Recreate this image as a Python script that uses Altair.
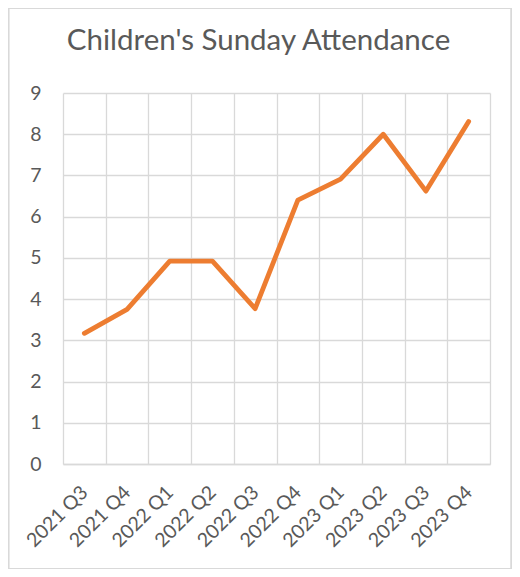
import altair as alt
import pandas as pd

quarters = ["2021 Q3", "2021 Q4", "2022 Q1", "2022 Q2", "2022 Q3",
            "2022 Q4", "2023 Q1", "2023 Q2", "2023 Q3", "2023 Q4"]
attendance = [3.17, 3.75, 4.92, 4.92, 3.77, 6.40, 6.91, 8.0, 6.62, 8.31]
y_ticks = [0, 1, 2, 3, 4, 5, 6, 7, 8, 9]
title_text = "Children's Sunday Attendance"

df = pd.DataFrame({"quarter": quarters, "attendance": attendance})

FONT = "Lato"
GRID = "#d9d9d9"
TXT = "#595959"

x_enc = alt.X(
    "quarter:N", sort=quarters, bandPosition=0.5,
    scale=alt.Scale(type="band", paddingInner=0, paddingOuter=0),
    axis=alt.Axis(title=None, labelAngle=-45, labelAlign="right", labelBaseline="middle",
                  tickBand="extent", grid=True, gridColor=GRID, gridWidth=1.3,
                  ticks=False, domain=True, domainColor=GRID, domainWidth=1.3,
                  labelPadding=25, labelFontSize=19.5, labelColor=TXT, labelFont=FONT,
                  labelOffset=0),
)
y_enc = alt.Y(
    "attendance:Q",
    scale=alt.Scale(domain=[0, 9], nice=False),
    axis=alt.Axis(title=None, values=y_ticks, grid=True, gridColor=GRID, gridWidth=1.3,
                  ticks=False, domain=False, labelPadding=22, labelFontSize=19.5,
                  labelColor=TXT, labelFont=FONT),
)

line = alt.Chart(df).mark_line(
    color="#ED7D31", strokeWidth=4.8, strokeCap="round", strokeJoin="round"
).encode(x=x_enc, y=y_enc)

frame = alt.Chart(df).mark_rect(
    fill=None, stroke=GRID, strokeWidth=1.2, clip=False
).encode(
    x=alt.value(-54.5), x2=alt.value(448.5),
    y=alt.value(-84.5), y2=alt.value(475.5),
)

title = alt.Chart(pd.DataFrame({"t": [title_text]})).mark_text(
    font=FONT, fontSize=29.5, color=TXT, align="center", baseline="alphabetic", clip=False
).encode(text="t:N", x=alt.value(195.5), y=alt.value(-43))

chart = alt.layer(line, frame, title).properties(
    width=427, height=371,
    autosize=alt.AutoSizeParams(type="none"),
    padding={"left": 55, "top": 85, "right": 22, "bottom": 105},
).configure_view(stroke=None)

chart.save("out.html", embed_options={"renderer": "svg", "actions": False})
